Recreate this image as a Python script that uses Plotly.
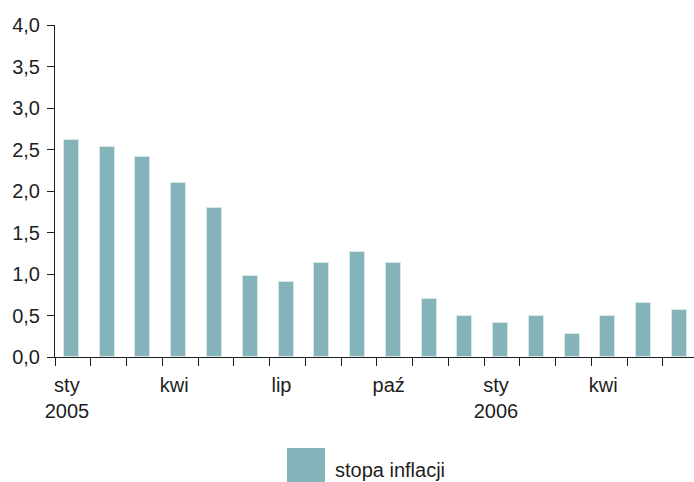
import plotly.graph_objects as go

# Monthly inflation rate, Jan 2005 - Jun 2006
months = ["sty 2005", "lut 2005", "mar 2005", "kwi 2005", "maj 2005", "cze 2005",
          "lip 2005", "sie 2005", "wrz 2005", "paź 2005", "lis 2005", "gru 2005",
          "sty 2006", "lut 2006", "mar 2006", "kwi 2006", "maj 2006", "cze 2006"]
inflation = [2.61, 2.53, 2.41, 2.10, 1.79, 0.98, 0.90, 1.13, 1.27, 1.13, 0.70, 0.49,
             0.41, 0.49, 0.28, 0.49, 0.65, 0.57]
label_pos = [0, 3, 6, 9, 12, 15]
label_text = ["sty<br>2005", "kwi", "lip", "paź", "sty<br>2006", "kwi"]
y_ticks = [0, 0.5, 1.0, 1.5, 2.0, 2.5, 3.0, 3.5, 4.0]
legend_name = "stopa inflacji"

BAR = "#84b3b9"
INK = "#1e1e1e"
FONT = "Liberation Sans, Arial, sans-serif"

W, H = 694, 482
L, R, T, B = 55, 0, 25, 125
pw, ph = W - L - R, H - T - B


def px_x(px):
    return (px - L) / pw


def px_y(py):
    return (H - B - py) / ph


xi = list(range(len(months)))
xr = [-0.5, -0.5 + pw / 35.76]

fig = go.Figure()
fig.add_trace(go.Bar(
    x=xi, y=inflation, name=legend_name, width=0.42, offset=-0.25,
    marker=dict(color=BAR, line=dict(color="#d4e7e9", width=1)),
    customdata=months, hovertemplate="%{customdata}: %{y}<extra></extra>",
    showlegend=False,
))
# invisible companion trace carrying the month-label axis
fig.add_trace(go.Scatter(
    x=xi, y=inflation, xaxis="x2", mode="markers",
    marker=dict(opacity=0), hoverinfo="skip", showlegend=False,
))

fig.update_layout(
    width=W, height=H,
    margin=dict(l=L, r=R, t=T, b=B, pad=0),
    paper_bgcolor="white", plot_bgcolor="white",
    font=dict(family=FONT, size=20, color=INK),
    separators=", ",
    bargap=0,
    xaxis=dict(
        range=xr, showgrid=False, zeroline=False,
        showline=True, linecolor=INK, linewidth=1,
        tickmode="array", tickvals=[i - 0.5 for i in range(len(months) + 1)],
        ticktext=[""] * (len(months) + 1),
        ticks="outside", ticklen=8, tickcolor=INK, tickwidth=1,
    ),
    xaxis2=dict(
        range=xr, overlaying="x", anchor="y", side="bottom",
        showgrid=False, zeroline=False, showline=False, ticks="",
        tickmode="array", tickvals=label_pos, ticktext=label_text,
        ticklabelstandoff=14, ticklabelshift=-6,
        tickfont=dict(family=FONT, size=20, color=INK),
    ),
    yaxis=dict(
        range=[0, 4], showgrid=False, zeroline=False,
        showline=True, linecolor=INK, linewidth=1,
        tickmode="array", tickvals=y_ticks, tickformat=".1f",
        ticks="outside", ticklen=7, tickcolor=INK, tickwidth=1,
        ticklabelstandoff=3,
        tickfont=dict(family=FONT, size=20, color=INK),
    ),
    shapes=[dict(
        type="rect", xref="paper", yref="paper",
        x0=px_x(287), x1=px_x(325), y0=px_y(490), y1=px_y(448),
        fillcolor=BAR, line=dict(width=0),
    )],
    annotations=[dict(
        text=legend_name, xref="paper", yref="paper",
        x=px_x(333), y=px_y(470), xanchor="left", yanchor="middle",
        showarrow=False, font=dict(family=FONT, size=20, color=INK),
    )],
)

fig.write_html("out.html")
